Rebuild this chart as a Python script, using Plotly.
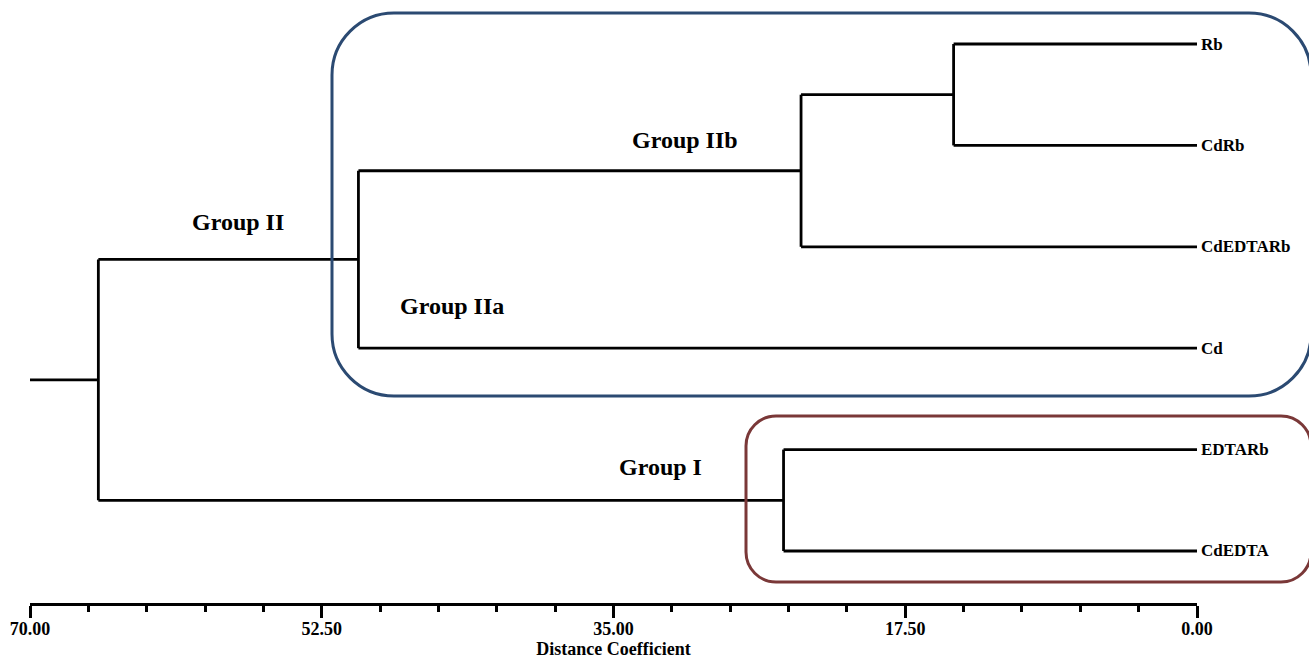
import plotly.graph_objects as go

# Leaf order (top to bottom) and the agglomeration steps of the clustering
leaves = ["Rb", "CdRb", "CdEDTARb", "Cd", "EDTARb", "CdEDTA"]
# each merge: (left child, right child, distance); children index leaves (0..5)
# or earlier merges (6 + merge index)
merges = [
    (0, 1, 14.6),     # Rb + CdRb
    (6, 2, 23.75),    # + CdEDTARb  -> Group IIb
    (7, 3, 50.3),     # + Cd        -> Group II
    (4, 5, 24.8),     # EDTARb + CdEDTA -> Group I
    (8, 9, 65.9),     # Group II + Group I
]
axis_max = 70.0
major_ticks = [70.0, 52.5, 35.0, 17.5, 0.0]
minor_step = 3.5

group_labels = ["Group II", "Group IIb", "Group IIa", "Group I"]
group_label_x = [57.5, 30.7, 44.7, 32.2]
group_label_y = [4.245, 5.053, 3.416, 1.828]

FONT = "Liberation Serif"
n = len(leaves)

# node positions: y for leaves descends from n, height 0
pos_y = [float(n - i) for i in range(n)]
pos_h = [0.0] * n
xs, ys = [], []
for a, b, h in merges:
    ya, yb = pos_y[a], pos_y[b]
    # horizontal arms from each child to the merge height
    xs += [pos_h[a], h, None, pos_h[b], h, None, h, h, None]
    ys += [ya, ya, None, yb, yb, None, ya, yb, None]
    pos_y.append((ya + yb) / 2)
    pos_h.append(h)
# stub from the root to the axis maximum
xs += [pos_h[-1], axis_max]
ys += [pos_y[-1], pos_y[-1]]

fig = go.Figure()
fig.add_trace(go.Scatter(x=xs, y=ys, mode="lines",
                         line=dict(color="black", width=2.8),
                         hoverinfo="skip", showlegend=False, cliponaxis=False))

# leaf names at the right end of each branch
for i, name in enumerate(leaves):
    fig.add_annotation(x=0, y=pos_y[i], text=name, showarrow=False,
                       xanchor="left", yanchor="middle", xshift=2,
                       font=dict(family=FONT, size=17, color="black", weight="bold"))

for t, gx, gy in zip(group_labels, group_label_x, group_label_y):
    fig.add_annotation(x=gx, y=gy, text=t, showarrow=False,
                       xanchor="center", yanchor="middle",
                       font=dict(family=FONT, size=24, color="black", weight="bold"))

W, H = 1309, 660
L, R, T, B = 30, 112, 0, 57
PW, PH = W - L - R, H - T - B


def px2paper(px, py):
    return (px - L) / PW, (H - B - py) / PH


def rounded_rect(x0, y0, x1, y1, r):
    k = 0.5523 * r

    def P(x, y):
        u, v = px2paper(x, y)
        return f"{u:.5f},{v:.5f}"

    d = "M " + P(x0 + r, y0)
    d += " L " + P(x1 - r, y0)
    d += " C " + P(x1 - r + k, y0) + " " + P(x1, y0 + r - k) + " " + P(x1, y0 + r)
    d += " L " + P(x1, y1 - r)
    d += " C " + P(x1, y1 - r + k) + " " + P(x1 - r + k, y1) + " " + P(x1 - r, y1)
    d += " L " + P(x0 + r, y1)
    d += " C " + P(x0 + r - k, y1) + " " + P(x0, y1 - r + k) + " " + P(x0, y1 - r)
    d += " L " + P(x0, y0 + r)
    d += " C " + P(x0, y0 + r - k) + " " + P(x0 + r - k, y0) + " " + P(x0 + r, y0)
    d += " Z"
    return d


fig.add_shape(type="path", xref="paper", yref="paper",
              path=rounded_rect(332, 13, 1311, 396, 62),
              line=dict(color="#2B4A72", width=3), layer="above")
fig.add_shape(type="path", xref="paper", yref="paper",
              path=rounded_rect(746, 416, 1311, 582, 30),
              line=dict(color="#7A3838", width=3), layer="above")

fig.update_layout(
    width=W, height=H,
    margin=dict(l=L, r=R, t=T, b=B),
    plot_bgcolor="white", paper_bgcolor="white",
    font=dict(family=FONT, color="black"),
    xaxis=dict(
        range=[axis_max, 0], showgrid=False, zeroline=False,
        showline=True, linecolor="black", linewidth=3,
        ticks="outside", ticklen=12, tickwidth=2.5, tickcolor="black",
        tickvals=major_ticks, ticktext=[f"{v:.2f}" for v in major_ticks],
        ticklabelstandoff=-5,
        tickfont=dict(family=FONT, size=18, color="black", weight="bold"),
        minor=dict(ticks="outside", dtick=minor_step, tick0=0, ticklen=6,
                   tickwidth=2.5, tickcolor="black", showgrid=False),
        title=dict(text="Distance Coefficient", standoff=4,
                   font=dict(family=FONT, size=18, color="black", weight="bold")),
    ),
    yaxis=dict(range=[0.487, 6.434], visible=False),
)

fig.write_html("out.html")
